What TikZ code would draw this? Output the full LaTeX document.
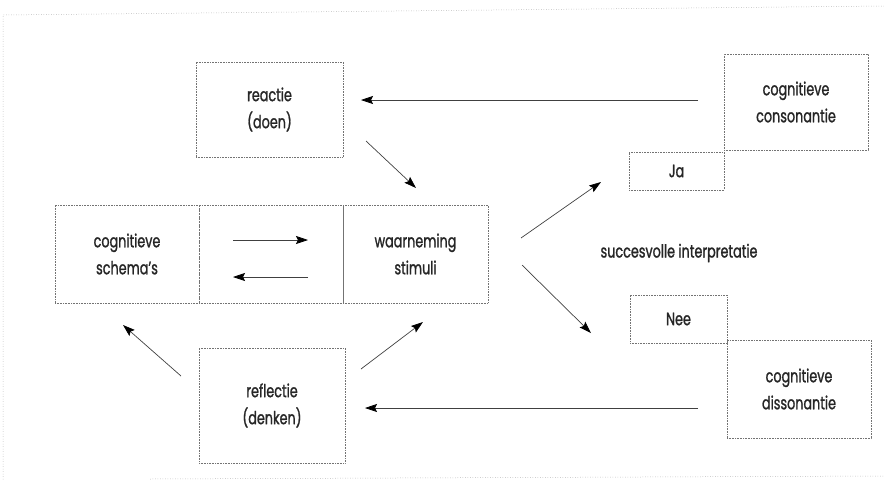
\documentclass[tikz,border=0pt]{standalone}
\usepackage{fontspec}
\setmainfont{Poppins}[FakeStretch=0.71, FakeBold=1.2]
\usetikzlibrary{arrows.meta}
\tikzset{
  box/.style={draw=black!55, densely dotted, line width=0.6pt, inner sep=0pt, align=center,
    font=\fontsize{18}{27}\selectfont, text=black!85},
  lbl/.style={inner sep=0pt, align=center, font=\fontsize{18}{27}\selectfont, text=black!85},
  arr/.style={draw=black!75, line width=0.7pt, -{Stealth[length=12pt,width=8pt,inset=2pt,color=black]}},
  frame/.style={draw=black!45, dotted, line width=0.5pt}
}
\begin{document}
\begin{tikzpicture}[x=1pt,y=-1pt]
\useasboundingbox (0,0) rectangle (884,488);
% outer frame
\draw[frame] (884,6) -- (3,15) -- (3,480);
\draw[frame] (150,479) -- (884,476);
% boxes (corners in pixel units)
\node[box, minimum width=147pt, minimum height=95pt] (reactie) at (269.5,109.5) {reactie\\(doen)};
\node[box, minimum width=144pt, minimum height=96pt] (cons) at (796,102) {cognitieve\\consonantie};
\node[box, minimum width=95pt, minimum height=38pt] (ja) at (676.5,171) {Ja};
\node[box, minimum width=144pt, minimum height=98pt] (schema) at (127,254) {cognitieve\\schema's};
\node[box, minimum width=144pt, minimum height=98pt] (mid) at (271,254) {};
\node[box, minimum width=145pt, minimum height=98pt] (waarn) at (415.5,254) {waarneming\\stimuli};
\node[box, minimum width=146pt, minimum height=115pt] (reflectie) at (272,405.5) {reflectie\\(denken)};
\node[box, minimum width=97pt, minimum height=48pt] (nee) at (678.5,319) {Nee};
\node[box, minimum width=144pt, minimum height=98pt] (diss) at (799,389) {cognitieve\\dissonantie};
\node[lbl] (succ) at (679,253) {succesvolle interpretatie};
% arrow end points
\coordinate (c1) at (698,100); \coordinate (r1) at (361,100);
\coordinate (r2) at (366,141); \coordinate (w2) at (416,188);
\coordinate (m3a) at (233,240); \coordinate (m3b) at (308,240);
\coordinate (m4a) at (308,277); \coordinate (m4b) at (233,277);
\coordinate (w5) at (521,238); \coordinate (j5) at (601,182);
\coordinate (w6) at (522,265); \coordinate (n6) at (591,333);
\coordinate (d7) at (698,408); \coordinate (r7) at (365,408);
\coordinate (f8) at (181,376); \coordinate (s8) at (123,325);
\coordinate (f9) at (361,369); \coordinate (w9) at (423,322);
\draw[arr] (c1) -- (r1);
\draw[arr] (r2) -- (w2);
\draw[arr] (m3a) -- (m3b);
\draw[arr] (m4a) -- (m4b);
\draw[arr] (w5) -- (j5);
\draw[arr] (w6) -- (n6);
\draw[arr] (d7) -- (r7);
\draw[arr] (f8) -- (s8);
\draw[arr] (f9) -- (w9);
\end{tikzpicture}
\end{document}
